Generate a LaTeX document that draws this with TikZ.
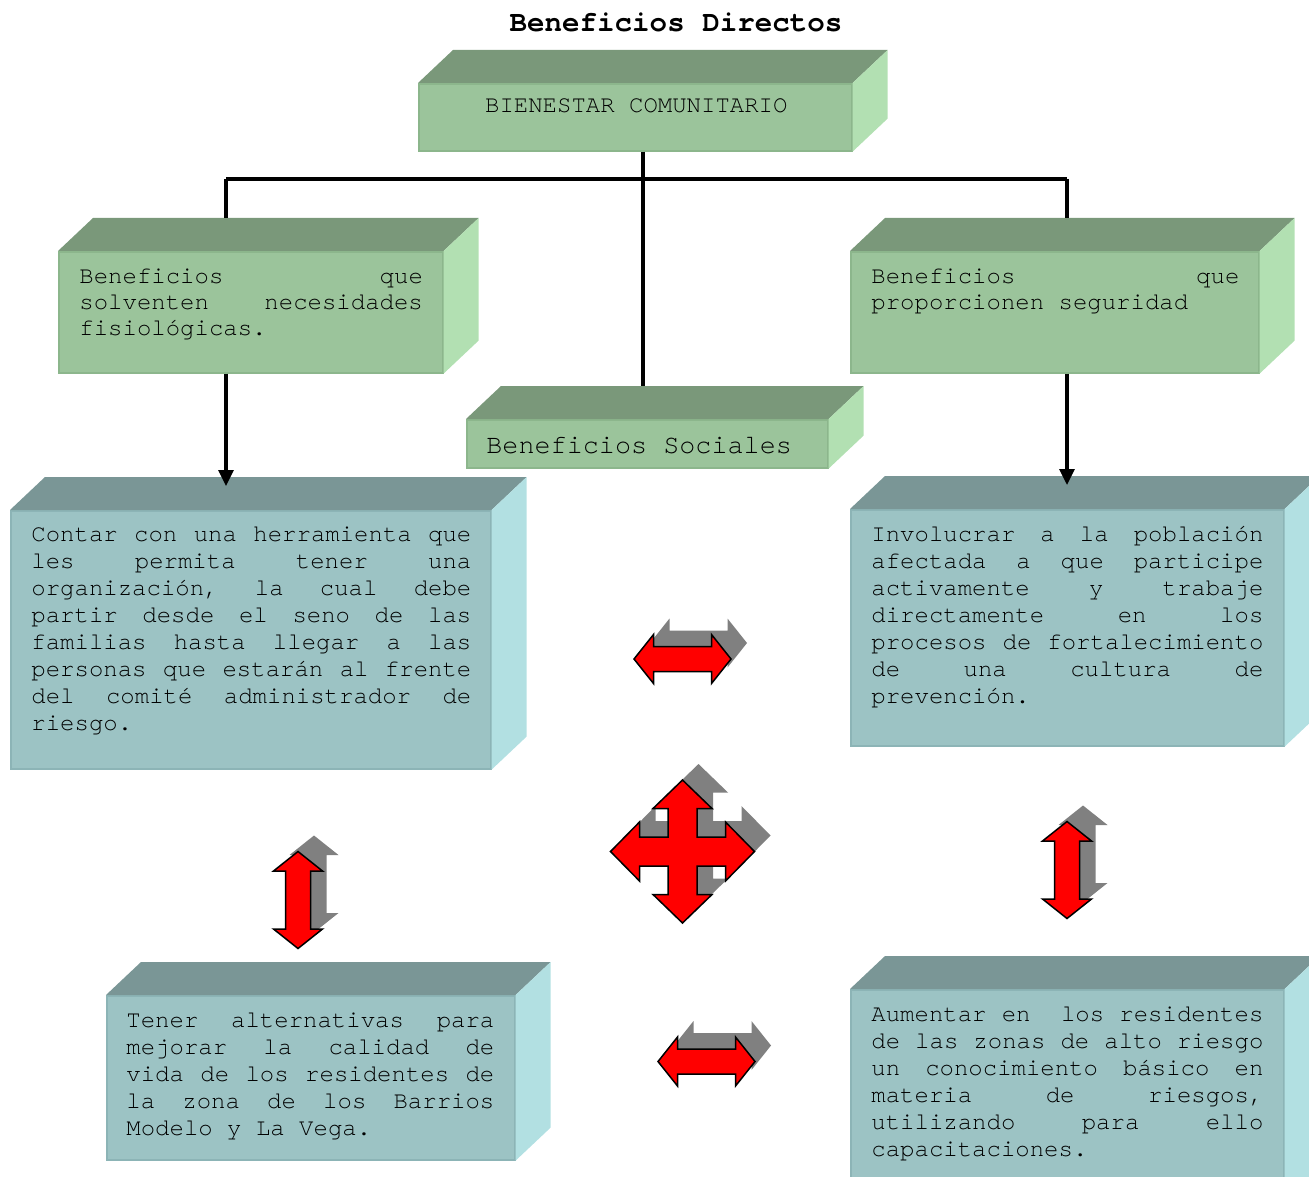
\documentclass[tikz,border=0pt]{standalone}
\usepackage{fontspec}
\newfontfamily\courfont[Ligatures=NoCommon]{TeX Gyre Cursor}
\usepackage{tikz}
\usetikzlibrary{arrows.meta, positioning, calc}

\definecolor{greenfront}{RGB}{155,196,155}
\definecolor{greentop}{RGB}{122,152,122}
\definecolor{greenside}{RGB}{178,224,178}
\definecolor{greenedge}{RGB}{140,182,140}
\definecolor{tealfront}{RGB}{156,195,196}
\definecolor{tealtop}{RGB}{122,150,150}
\definecolor{tealside}{RGB}{178,224,226}
\definecolor{tealedge}{RGB}{140,180,182}
\definecolor{arrowred}{RGB}{255,0,0}
\definecolor{shadowgray}{RGB}{128,128,128}

% top and side faces of a 3-D box (front face = node #1)
\newcommand{\cubefaces}[3]{%
  \coordinate (#1b) at ([shift={(35,-33)}]#1.north west);
  \fill[#2] (#1.north west) -- (#1b) -- ([shift={(35,-33)}]#1.north east) -- (#1.north east) -- cycle;
  \fill[#3] (#1.north east) -- ([shift={(35,-33)}]#1.north east) -- ([shift={(35,-33)}]#1.south east) -- (#1.south east) -- cycle;
}

\begin{document}
\begin{tikzpicture}[x=0.5pt, y=-0.5pt,
  greenbox/.style={draw=greenedge, line width=0.8pt, fill=greenfront, inner sep=0pt, anchor=north west},
  tealbox/.style={draw=tealedge, line width=0.8pt, fill=tealfront, inner sep=0pt, anchor=north west},
  boxtext/.style={inner sep=0pt, anchor=base west, align=justify,
    font={\courfont\fontsize{12pt}{#1}\selectfont\spaceskip=7.2pt plus 100pt\relax\frenchspacing\hyphenpenalty=10000\relax}},
  boxtext/.default=13.5pt,
  link/.style={line width=1.6pt},
  flow/.style={link, -{Triangle[width=7.5pt,length=8pt]}, shorten >=-4.5pt},
  blockarrow/.style={fill=arrowred, draw=black, line width=0.75pt, line join=miter,
    preaction={fill=shadowgray, draw=none, transform canvas={shift={(8pt,8pt)}}}},
  dblarrow/.pic={\path[blockarrow] (-48.5,0) -- (-29,-24.5) -- (-29,-12.5) -- (29,-12.5) -- (29,-24.5) -- (48.5,0)
    -- (29,24.5) -- (29,12.5) -- (-29,12.5) -- (-29,24.5) -- cycle;},
  crossarrow/.pic={\path[blockarrow] (0,-71.5) -- (29.5,-43) -- (14.5,-43) -- (14.5,-14.5) -- (43,-14.5) -- (43,-29.5)
    -- (72,0) -- (43,29.5) -- (43,14.5) -- (14.5,14.5) -- (14.5,43) -- (29.5,43) -- (0,71.5) -- (-29.5,43)
    -- (-14.5,43) -- (-14.5,14.5) -- (-43,14.5) -- (-43,29.5) -- (-72,0) -- (-43,-29.5) -- (-43,-14.5)
    -- (-14.5,-14.5) -- (-14.5,-43) -- (-29.5,-43) -- cycle;}]
  \useasboundingbox (0,0) rectangle (1309,1176);
  \clip (0,0) rectangle (1309,1176);

  % title
  \node[font=\courfont\bfseries\fontsize{14.6pt}{16pt}\selectfont, anchor=base, inner sep=0pt] (titulo) at (676,32) {Beneficios Directos};

  % green boxes
  \node[greenbox, minimum width=216.5pt, minimum height=33.5pt] (bien) at (418,83) {};
  \cubefaces{bien}{greentop}{greenside}
  \node[font=\courfont\fontsize{12pt}{13.5pt}\selectfont, anchor=base, inner sep=0pt] (bientxt) at ([shift={(1,30)}]bien.north) {BIENESTAR COMUNITARIO};

  \node[greenbox, minimum width=192pt, minimum height=60.5pt] (fisio) at (58,251) {};
  \cubefaces{fisio}{greentop}{greenside}
  \node[boxtext=12.9pt, text width=171.75pt] (fisiotxt) at ([shift={(21,32.5)}]fisio.north west)
    {Beneficios que\linebreak solventen necesidades\linebreak fisiológicas.};

  \node[greenbox, minimum width=204pt, minimum height=60.5pt] (segur) at (850,251) {};
  \cubefaces{segur}{greentop}{greenside}
  \node[boxtext=12.9pt, text width=184pt] (segurtxt) at ([shift={(21,32.3)}]segur.north west)
    {Beneficios que\linebreak proporcionen seguridad};

  \node[greenbox, minimum width=180.5pt, minimum height=24pt] (social) at (466,419) {};
  \cubefaces{social}{greentop}{greenside}
  \node[font=\courfont\fontsize{13.4pt}{15pt}\selectfont, anchor=base west, inner sep=0pt] (socialtxt) at ([shift={(20,34)}]social.north west) {Beneficios Sociales};

  % teal boxes
  \node[tealbox, minimum width=240pt, minimum height=129pt] (organiz) at (10,510) {};
  \cubefaces{organiz}{tealtop}{tealside}
  \node[boxtext, text width=220pt] (organiztxt) at ([shift={(21,31)}]organiz.north west)
    {Contar con una herramienta que\linebreak les permita tener una\linebreak organización, la cual debe\linebreak
     partir desde el seno de las\linebreak familias hasta llegar a las\linebreak personas que estarán al frente\linebreak
     del comité administrador de\linebreak riesgo.};

  \node[tealbox, minimum width=216.5pt, minimum height=118pt] (involuc) at (850,509) {};
  \cubefaces{involuc}{tealtop}{tealside}
  \node[boxtext, text width=196pt] (involuctxt) at ([shift={(21,32)}]involuc.north west)
    {Involucrar a la población\linebreak afectada a que participe\linebreak activamente y trabaje\linebreak
     directamente en los\linebreak procesos de fortalecimiento\linebreak de una cultura de\linebreak prevención.};

  \node[tealbox, minimum width=204pt, minimum height=82pt] (altern) at (106,995) {};
  \cubefaces{altern}{tealtop}{tealside}
  \node[boxtext, text width=184pt] (alterntxt) at ([shift={(20,32.3)}]altern.north west)
    {Tener alternativas para\linebreak mejorar la calidad de\linebreak vida de los residentes de\linebreak
     la zona de los Barrios\linebreak Modelo y La Vega.};

  \node[tealbox, minimum width=216.5pt, minimum height=110pt] (aument) at (850,989) {};
  \cubefaces{aument}{tealtop}{tealside}
  \node[boxtext, text width=196pt] (aumenttxt) at ([shift={(21,32)}]aument.north west)
    {Aumentar en\ \ los residentes\linebreak de las zonas de alto riesgo\linebreak un conocimiento básico en\linebreak
     materia de riesgos,\linebreak utilizando para ello\linebreak capacitaciones.};

  % connectors
  \coordinate (lsplit) at (226,179);
  \coordinate (msplit) at (643,179);
  \coordinate (rsplit) at (1067,179);
  \draw[link] (lsplit) -- (rsplit);
  \draw[link] (msplit |- bien.south) -- (msplit |- socialb);
  \draw[link] (lsplit) -- (lsplit |- fisiob);
  \draw[link] (rsplit) -- (rsplit |- segurb);
  \draw[flow] (lsplit |- fisio.south) -- (lsplit |- organizb);
  \draw[flow] (rsplit |- segur.south) -- (rsplit |- involucb);

  % block arrows
  \pic at (682.5,659) {dblarrow};
  \pic at (706.5,1061.5) {dblarrow};
  \pic[rotate=90] at (298,900) {dblarrow};
  \pic[rotate=90] at (1067,870) {dblarrow};
  \pic at (682.5,851.5) {crossarrow};
\end{tikzpicture}
\end{document}
